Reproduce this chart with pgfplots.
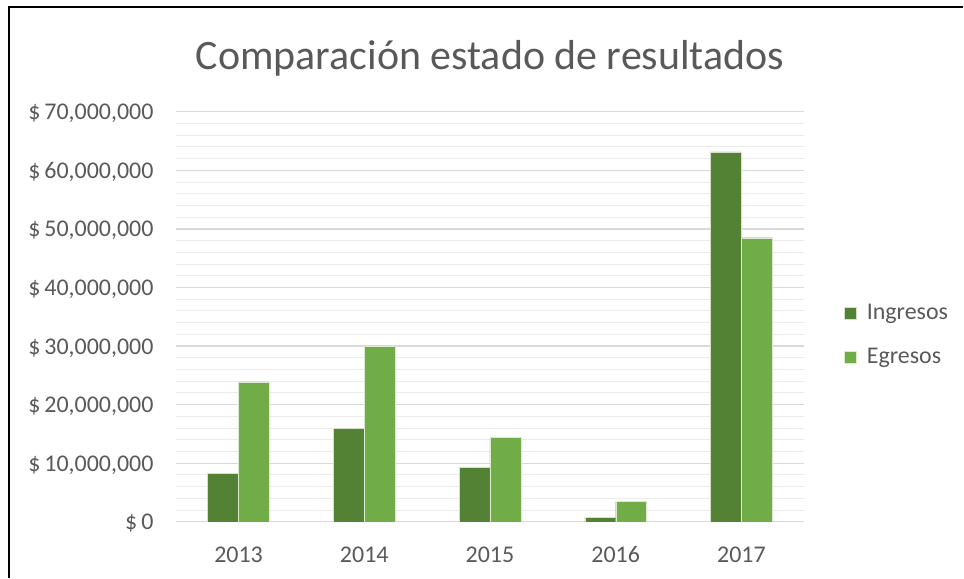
\documentclass[border=0pt]{standalone}
\usepackage{pgfplots}
\pgfplotsset{compat=1.18}
\usepackage{fontspec}
\setmainfont{Carlito}
\definecolor{ingreso}{HTML}{548235}
\definecolor{egreso}{HTML}{70AD47}
\definecolor{txt}{HTML}{595959}
\definecolor{gridmaj}{HTML}{D9D9D9}
\definecolor{gridmin}{HTML}{EBEBEB}
\begin{document}
\begin{tikzpicture}[x=0.75pt,y=0.75pt]
  \begin{axis}[
      name=ax,
      scale only axis,
      width=472.5pt, height=308.25pt,
      ybar=0pt,
      bar width=23.25pt,
      xmin=-0.5, xmax=4.5,
      ymin=0, ymax=70000000,
      xtick={0,1,2,3,4},
      xticklabels={2013,2014,2015,2016,2017},
      ytick={0,10000000,20000000,30000000,40000000,50000000,60000000,70000000},
      minor y tick num=4,
      scaled y ticks=false,
      yticklabel={\$\,\pgfmathprintnumber{\tick}},
      /pgf/number format/.cd, fixed, precision=0, 1000 sep={,}, assume math mode=true,
      /pgfplots/.cd,
      major tick length=0pt, minor tick length=0pt,
      axis line style={draw=none},
      ymajorgrids=true, yminorgrids=true,
      major grid style={gridmaj, line width=0.9pt},
      minor grid style={gridmin, line width=0.75pt},
      tick label style={font=\fontsize{18}{21}\selectfont, text=txt},
      yticklabel style={anchor=base east, inner sep=0pt, xshift=-16.5pt, yshift=-6pt},
      xticklabel style={anchor=base, inner sep=0pt, yshift=-30.75pt},
      title={Comparación estado de resultados},
      every axis title/.style={at={(0.5,1)}, anchor=base, yshift=31.5pt,
        font=\fontsize{31.5}{36}\selectfont, text=txt},
      legend cell align=left,
      legend style={at={(1.0635,0.456)}, anchor=west, draw=none, fill=none,
        font=\fontsize{18}{21}\selectfont, text=txt, row sep=20pt,
        inner sep=0pt, nodes={inner xsep=7.5pt, inner ysep=0pt}},
      legend image code/.code={\fill[#1] (0pt,-4.5pt) rectangle (9pt,4.5pt);},
    ]
    \addplot[fill=ingreso, draw=white!75!ingreso, line width=0.3pt]
      coordinates {(0,8300000) (1,15900000) (2,9300000) (3,800000) (4,63150000)};
    \addlegendentry{Ingresos}
    \addplot[fill=egreso, draw=white!75!egreso, line width=0.3pt]
      coordinates {(0,23900000) (1,29900000) (2,14400000) (3,3450000) (4,48500000)};
    \addlegendentry{Egresos}
  \end{axis}
  % canvas 964 x 579 px around the axis (1px = 0.75pt)
  \path (ax.south west) ++(-175,-56) coordinate (c0) ++(964,579) coordinate (c1);
  \path (c0) rectangle (c1);
  \draw[black, line width=1.6pt] (c0) ++(8,0) -- ++(0,572) -- ++(956,0);
\end{tikzpicture}
\end{document}
